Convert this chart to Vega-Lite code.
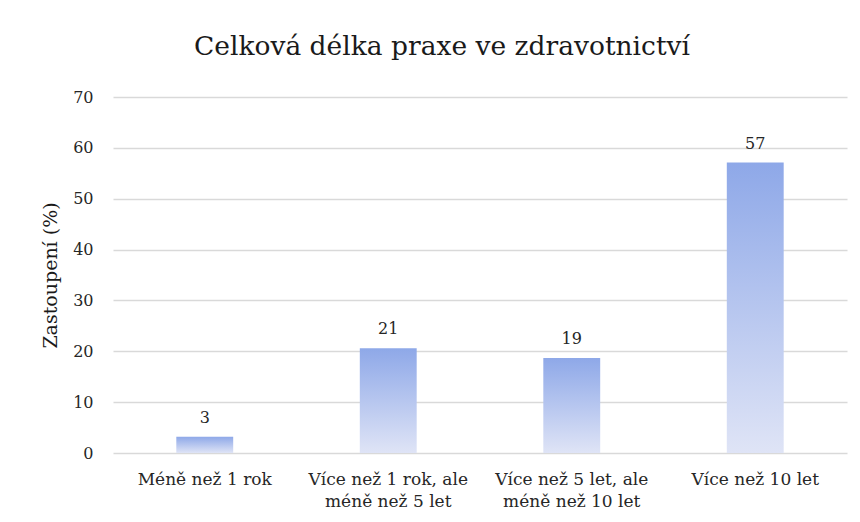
{
  "$schema": "https://vega.github.io/schema/vega-lite/v6.json",
  "width": 734,
  "height": 356,
  "autosize": "none",
  "padding": {"left": 113, "top": 97, "right": 13, "bottom": 69},
  "background": "white",
  "config": {
    "view": {"stroke": null},
    "axis": {"labelFont": "DejaVu Serif", "titleFont": "DejaVu Serif"},
    "text": {"font": "DejaVu Serif"},
    "title": {"font": "DejaVu Serif"}
  },
  "title": {
    "text": "Celková délka praxe ve zdravotnictví",
    "fontSize": 26.5,
    "fontWeight": "normal",
    "color": "#1a1a1a",
    "anchor": "middle",
    "dx": -38,
    "offset": 29
  },
  "data": {
    "values": [
      {"kategorie": "Méně než 1 rok", "hodnota": 3.2},
      {"kategorie": "Více než 1 rok, ale méně než 5 let", "hodnota": 20.6},
      {"kategorie": "Více než 5 let, ale méně než 10 let", "hodnota": 18.7},
      {"kategorie": "Více než 10 let", "hodnota": 57.1}
    ]
  },
  "encoding": {
    "x": {
      "field": "kategorie",
      "type": "nominal",
      "sort": null,
      "scale": {"paddingInner": 0.69, "paddingOuter": 0.345},
      "axis": {
        "title": null,
        "labelAngle": 0,
        "labelFontSize": 17,
        "labelColor": "#262626",
        "labelPadding": 18,
        "labelLineHeight": 22,
        "ticks": false,
        "domain": false,
        "labelExpr": "indexof(datum.label, ', ale ') > 0 ? [slice(datum.label, 0, indexof(datum.label, ', ale ') + 5), slice(datum.label, indexof(datum.label, ', ale ') + 6)] : datum.label"
      }
    },
    "y": {
      "field": "hodnota",
      "type": "quantitative",
      "scale": {"domain": [0, 70]},
      "axis": {
        "title": "Zastoupení (%)",
        "titleFontSize": 19,
        "titleFontWeight": "normal",
        "titleColor": "#1a1a1a",
        "titlePadding": 12,
        "values": [0, 10, 20, 30, 40, 50, 60, 70],
        "labelFontSize": 16,
        "labelColor": "#262626",
        "labelPadding": 20,
        "ticks": false,
        "domain": false,
        "gridColor": "#d9d9d9",
        "gridWidth": 1.5
      }
    }
  },
  "layer": [
    {
      "mark": {
        "type": "bar",
        "fill": {
          "gradient": "linear",
          "x1": 0, "y1": 0, "x2": 0, "y2": 1,
          "stops": [
            {"offset": 0, "color": "#8ea8e8"},
            {"offset": 1, "color": "#dfe4f6"}
          ]
        }
      }
    },
    {
      "mark": {
        "type": "text",
        "baseline": "bottom",
        "dy": -11,
        "fontSize": 16,
        "color": "#262626"
      },
      "encoding": {
        "text": {"field": "hodnota", "type": "quantitative", "format": ".0f"}
      }
    }
  ]
}
